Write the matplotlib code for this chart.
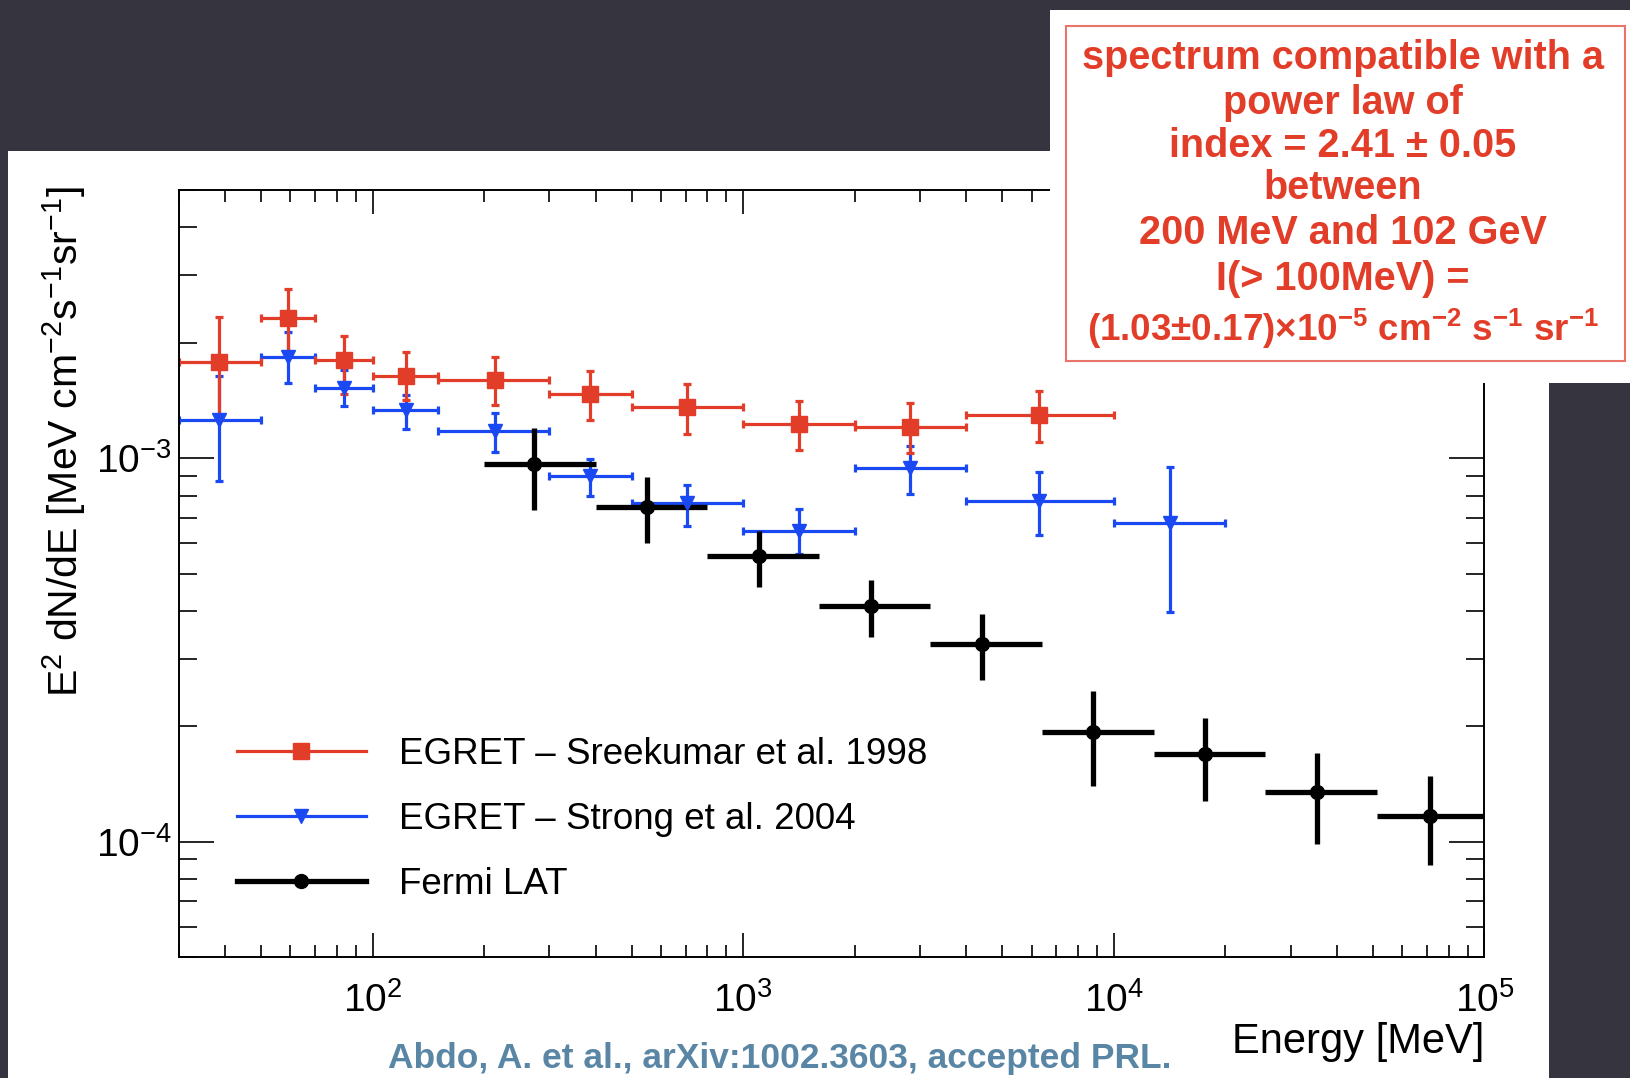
import numpy as np
import matplotlib
matplotlib.use("Agg")
import matplotlib.pyplot as plt
from matplotlib.lines import Line2D
from matplotlib.patches import Rectangle
from matplotlib.ticker import NullFormatter
from matplotlib import font_manager

plt.rcParams['font.family'] = ['Liberation Sans', 'DejaVu Sans']
plt.rcParams['mathtext.fontset'] = 'custom'
plt.rcParams['mathtext.rm'] = 'Liberation Sans'
plt.rcParams['mathtext.it'] = 'Liberation Sans:italic'
plt.rcParams['mathtext.bf'] = 'Liberation Sans:bold'

# EGRET - Sreekumar et al. 1998
red_x = np.array([38.5, 59.3, 83.5, 123, 214, 385, 706, 1415, 2826, 6285])
red_xlo = np.array([30, 50, 70, 100, 150, 300, 500, 1000, 2000, 4000])
red_xhi = np.array([50, 70, 100, 150, 300, 500, 1000, 2000, 4000, 10000])
red_y = np.array([1.78e-3, 2.32e-3, 1.81e-3, 1.64e-3, 1.60e-3, 1.47e-3, 1.36e-3, 1.23e-3, 1.21e-3, 1.30e-3])
red_ylo = np.array([1.26e-3, 1.86e-3, 1.47e-3, 1.42e-3, 1.38e-3, 1.26e-3, 1.16e-3, 1.05e-3, 1.03e-3, 1.10e-3])
red_yhi = np.array([2.33e-3, 2.76e-3, 2.08e-3, 1.89e-3, 1.84e-3, 1.69e-3, 1.56e-3, 1.41e-3, 1.39e-3, 1.50e-3])

# EGRET - Strong et al. 2004
blue_x = np.array([38.5, 59.3, 83.5, 123, 214, 385, 706, 1415, 2826, 6285, 14160])
blue_xlo = np.array([30, 50, 70, 100, 150, 300, 500, 1000, 2000, 4000, 10000])
blue_xhi = np.array([50, 70, 100, 150, 300, 500, 1000, 2000, 4000, 10000, 20000])
blue_y = np.array([1.26e-3, 1.84e-3, 1.53e-3, 1.34e-3, 1.18e-3, 9.0e-4, 7.65e-4, 6.47e-4, 9.46e-4, 7.75e-4, 6.8e-4])
blue_ylo = np.array([8.72e-4, 1.57e-3, 1.37e-3, 1.19e-3, 1.04e-3, 8.0e-4, 6.67e-4, 5.64e-4, 8.09e-4, 6.31e-4, 3.98e-4])
blue_yhi = np.array([1.64e-3, 2.14e-3, 1.70e-3, 1.46e-3, 1.31e-3, 9.94e-4, 8.5e-4, 7.38e-4, 1.08e-3, 9.22e-4, 9.5e-4])

# Fermi LAT
fermi_x = np.array([273, 549, 1101, 2213, 4402, 8790, 17620, 35400, 71100])
fermi_xlo = np.array([200, 400, 800, 1600, 3200, 6400, 12800, 25600, 51200])
fermi_xhi = np.array([400, 800, 1600, 3200, 6400, 12800, 25600, 51200, 102400])
fermi_y = np.array([9.64e-4, 7.46e-4, 5.57e-4, 4.13e-4, 3.28e-4, 1.93e-4, 1.70e-4, 1.35e-4, 1.17e-4])
fermi_ylo = np.array([7.33e-4, 6.0e-4, 4.62e-4, 3.43e-4, 2.64e-4, 1.4e-4, 1.28e-4, 9.88e-5, 8.73e-5])
fermi_yhi = np.array([1.2e-3, 8.94e-4, 6.47e-4, 4.83e-4, 3.94e-4, 2.48e-4, 2.11e-4, 1.71e-4, 1.49e-4])

labels = ["EGRET \u2013 Sreekumar et al. 1998", "EGRET \u2013 Strong et al. 2004", "Fermi LAT"]
box_lines = ["spectrum compatible with a", "power law of", "index = 2.41 \u00b1 0.05", "between",
             "200 MeV and 102 GeV", "I(> 100MeV) =",
             "(1.03\u00b10.17)\u00d710$^{\\mathbf{-5}}$ cm$^{\\mathbf{-2}}$ s$^{\\mathbf{-1}}$ sr$^{\\mathbf{-1}}$"]

red = '#e23d28'
blue = '#1a48f2'

W, H = 1568.0, 1037.0

fig = plt.figure(figsize=(16.3, 10.78), dpi=100)
fig.patch.set_facecolor('#35343f')

# white slide panel behind the plot
fig.add_artist(Rectangle((8 / W, 0), (1490 - 8) / W, 1 - 145 / H, transform=fig.transFigure,
                         facecolor='white', edgecolor='none', zorder=-5))

ax = fig.add_axes([172 / W, 1 - 921 / H, (1428 - 172) / W, (921 - 183) / H])
ax.set_xscale('log')
ax.set_yscale('log')

ax.errorbar(blue_x, blue_y, xerr=[blue_x - blue_xlo, blue_xhi - blue_x],
            yerr=[blue_y - blue_ylo, blue_yhi - blue_y], fmt='v', color=blue, ms=10,
            elinewidth=2.3, capsize=3, capthick=2.3)
ax.errorbar(red_x, red_y, xerr=[red_x - red_xlo, red_xhi - red_x],
            yerr=[red_y - red_ylo, red_yhi - red_y], fmt='s', color=red, ms=11,
            elinewidth=2.3, capsize=3, capthick=2.3)
ax.errorbar(fermi_x, fermi_y, xerr=[fermi_x - fermi_xlo, fermi_xhi - fermi_x],
            yerr=[fermi_y - fermi_ylo, fermi_yhi - fermi_y], fmt='o', color='black', ms=10,
            elinewidth=3.8, capsize=0)

ax.set_xlim(30, 1e5)
ax.set_ylim(5e-5, 5e-3)
for s in ax.spines.values():
    s.set_linewidth(1.4)
ax.tick_params(which='both', direction='in', top=True, right=True, width=1.2, labelsize=28)
ax.xaxis.set_tick_params(which='major', length=17, pad=18)
ax.xaxis.set_tick_params(which='minor', length=8.5)
ax.yaxis.set_tick_params(which='major', length=25, pad=5)
ax.yaxis.set_tick_params(which='minor', length=13)
ax.xaxis.set_minor_formatter(NullFormatter())
ax.yaxis.set_minor_formatter(NullFormatter())

ax.text(-0.0876, 1.005, 'E$^{2}$ dN/dE [MeV cm$^{-2}$s$^{-1}$sr$^{-1}$]', rotation=90,
        ha='center', va='top', fontsize=29.5, transform=ax.transAxes)
ax.text(1.0, -0.11, 'Energy [MeV]', ha='right', va='center', fontsize=30, transform=ax.transAxes)

handles = [Line2D([], [], color=red, marker='s', ms=11, lw=2.3),
           Line2D([], [], color=blue, marker='v', ms=10, lw=2.3),
           Line2D([], [], color='black', marker='o', ms=10, lw=3.8)]
ax.legend(handles, labels, loc='lower left', bbox_to_anchor=(0.0446, 0.072), frameon=False,
          fontsize=26.5, handlelength=3.5, handletextpad=0.9, labelspacing=0.82,
          borderpad=0, borderaxespad=0)

# annotation box at the top right (covers the corner of the plot)
fig.add_artist(Rectangle((1010 / W, 1 - 368 / H), (W - 1010) / W, (368 - 10) / H,
                         transform=fig.transFigure, facecolor='white', edgecolor='none', zorder=3))
fig.add_artist(Rectangle((1025 / W, 1 - 347 / H), (1563 - 1025) / W, (347 - 25) / H,
                         transform=fig.transFigure, fill=False, edgecolor='#e8746a', lw=1.5, zorder=4))
line_y = [56, 99, 140, 181, 224, 268, 316]
line_size = [28.5, 28.5, 28.5, 28.5, 28.5, 28.5, 26.5]
for txt, yy, fs in zip(box_lines, line_y, line_size):
    fig.text(1292 / W, 1 - yy / H, txt, ha='center', va='center', fontsize=fs,
             fontweight='bold', color=red, zorder=5)

names = {f.name for f in font_manager.fontManager.ttflist}
cite_family = 'Liberation Sans Narrow' if 'Liberation Sans Narrow' in names else 'Liberation Sans'
cite_size = 31 if cite_family == 'Liberation Sans Narrow' else 25.5
fig.text(750 / W, 1 - 1018 / H, 'Abdo, A. et al., arXiv:1002.3603, accepted PRL.',
         ha='center', va='center', fontsize=cite_size, fontweight='bold',
         color='#5a86a5', family=cite_family)

fig.savefig('out.png', dpi=100, facecolor=fig.get_facecolor())
